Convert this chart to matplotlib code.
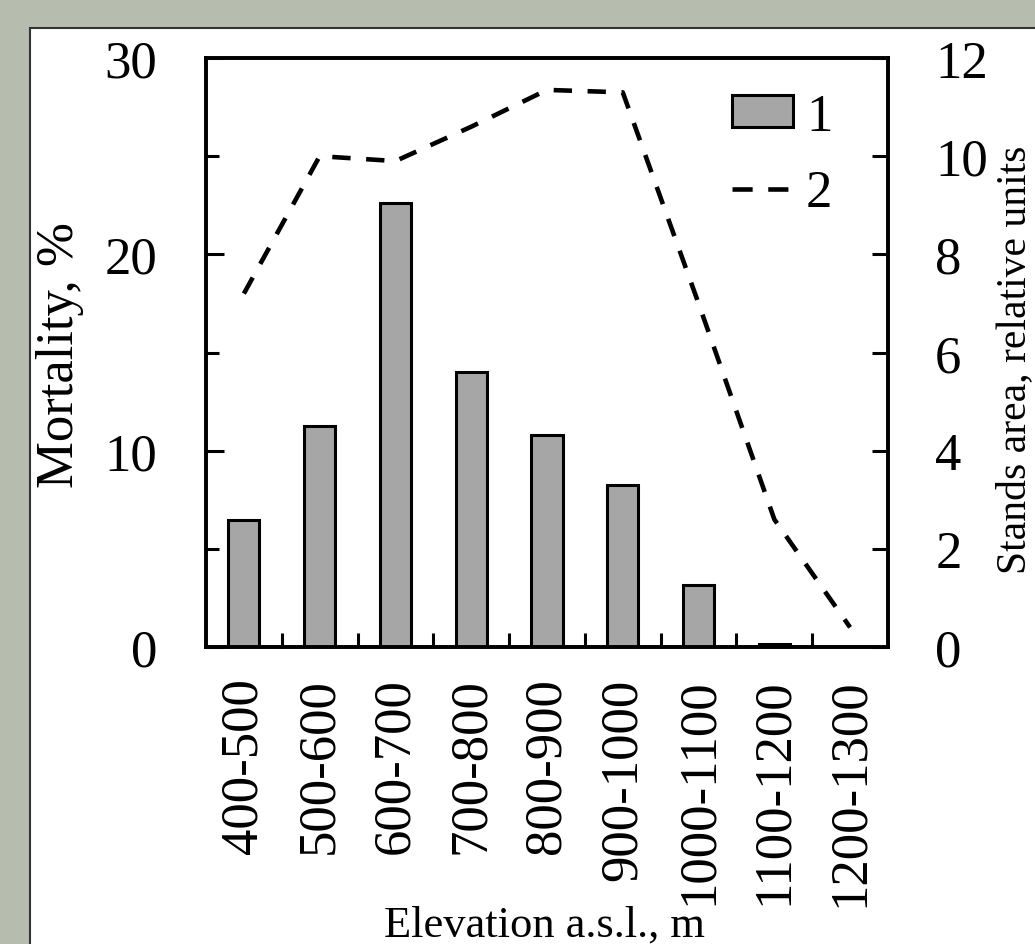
import matplotlib
matplotlib.use("Agg")
import matplotlib.pyplot as plt
from matplotlib.patches import Rectangle, Patch
from matplotlib.lines import Line2D
import numpy as np

categories = ["400-500", "500-600", "600-700", "700-800", "800-900",
              "900-1000", "1000-1100", "1100-1200", "1200-1300"]
mortality = [6.47, 11.24, 22.63, 14.03, 10.8, 8.27, 3.14, 0.15, 0.0]
stands_area = [7.2, 10.0, 9.9, 10.6, 11.35, 11.3, 7.0, 2.6, 0.4]
left_ticks = [0, 10, 20, 30]
left_minor = [5, 15, 25]
right_ticks = [0, 2, 4, 6, 8, 10, 12]

W, H = 1035, 945
FONT = "Liberation Serif"
FS = 38
plt.rcParams['font.family'] = [FONT, 'DejaVu Serif']

fig = plt.figure(figsize=(W / 100, H / 100), dpi=100)
fig.patch.set_facecolor("#b7bdae")

# white panel
fig.patches.append(Rectangle((30 / W, -0.01), 1.05, (H - 29) / H + 0.01,
                             transform=fig.transFigure, facecolor="white",
                             edgecolor="#333333", linewidth=1.5, zorder=-5))

ax = fig.add_axes([206 / W, (H - 648) / H, (888 - 206) / W, (648 - 59) / H])
ax.set_zorder(1)
ax.set_facecolor("white")
x = np.arange(len(categories))
ax.bar(x, mortality, width=0.41, color="#a6a6a6", edgecolor="black",
       linewidth=2.2, zorder=2)
ax.set_xlim(-0.5, len(categories) - 0.5)
ax.set_ylim(0, 30)

ax2 = ax.twinx()
ax2.set_zorder(2)
ax2.patch.set_visible(False)
ax2.plot(x, stands_area, color="black", linewidth=3.3, dashes=(4.0, 3.4),
         zorder=3)
ax2.set_ylim(0, 12)

for a in (ax, ax2):
    for s in a.spines.values():
        s.set_linewidth(2.6)

ax.set_yticks(left_ticks)
ax.set_yticks(left_minor, minor=True)
ax.set_yticklabels([str(v) for v in left_ticks], fontsize=FS, family=FONT)
ax.tick_params(axis='y', which='major', direction='in', length=13, width=2.2,
               pad=35, left=True, right=False)
ax.tick_params(axis='y', which='minor', direction='in', length=9.4, width=2.2,
               left=True, right=False)

ax.set_xticks(x)
ax.set_xticklabels(categories, rotation=90, fontsize=FS, family=FONT)
ax.set_xticks(np.arange(0.5, len(categories) - 1, 1.0), minor=True)
ax.tick_params(axis='x', which='major', length=0, pad=22)
ax.tick_params(axis='x', which='minor', direction='in', length=10, width=2.2,
               top=False)

ax2.set_yticks(right_ticks)
ax2.set_yticklabels([str(v) for v in right_ticks], fontsize=FS, family=FONT)
ax2.tick_params(axis='y', direction='in', length=11.5, width=2.2, pad=34,
                right=True, left=False)

fig.text(60 / W, (H - 355) / H, "Mortality, %", rotation=90, fontsize=FS,
         ha='center', va='center', family=FONT)
fig.text(1034 / W, (H - 360) / H, "Stands area, relative units", rotation=90,
         fontsize=30, ha='right', va='center', family=FONT)
fig.text(545 / W, 8 / H, "Elevation a.s.l., m", fontsize=32,
         ha='center', va='baseline', family=FONT)

handles = [Patch(facecolor="#a6a6a6", edgecolor="black", linewidth=2.2),
           Line2D([], [], color="black", linewidth=3.3, dashes=(4.4, 3.4))]
leg = ax2.legend(handles, ["1", "2"], loc='upper left',
                 bbox_to_anchor=(732 / W, (H - 94) / H),
                 bbox_transform=fig.transFigure, frameon=False,
                 fontsize=FS, handlelength=1.15, handleheight=0.55,
                 handletextpad=0.25, borderpad=0, labelspacing=0.53,
                 borderaxespad=0)

fig.savefig("out.png", dpi=100, facecolor=fig.get_facecolor())
